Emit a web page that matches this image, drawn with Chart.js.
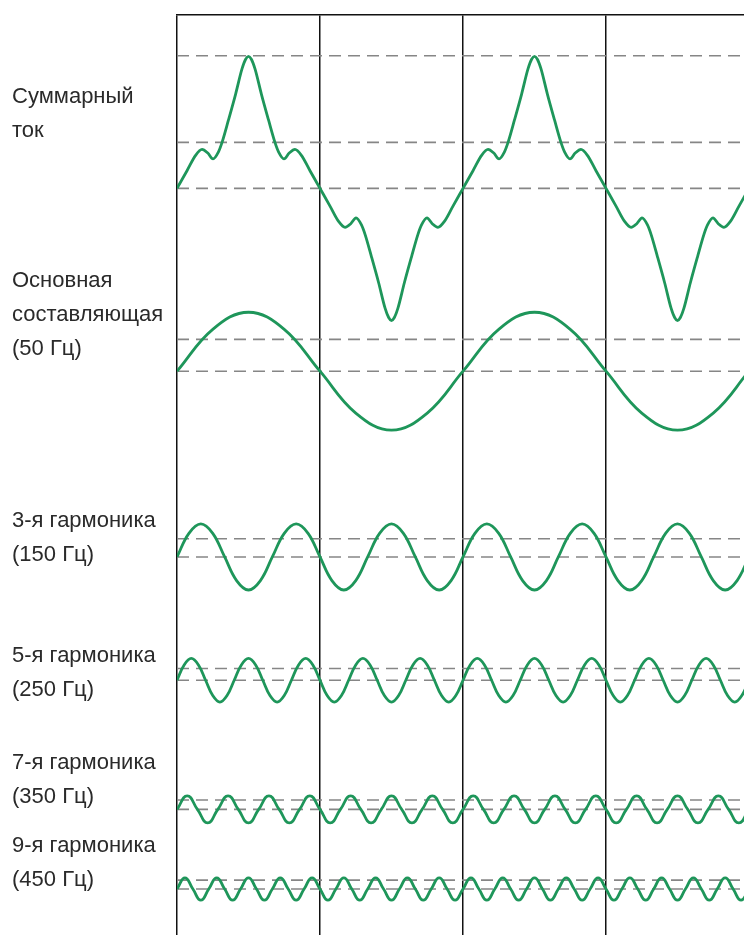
<!DOCTYPE html>
<html>
<head>
<meta charset="utf-8">
<script src="https://cdn.jsdelivr.net/npm/chart.js@4"></script>
<style>
  body { margin: 0; background: #fff; }
  #wrap { position: relative; width: 744px; height: 935px; }
  #waves { position: absolute; left: 0; top: 0; }
  .lbl {
    position: absolute; left: 12px;
    font-family: "Liberation Sans", Arial, sans-serif;
    font-size: 22px; line-height: 34px; color: #2a2a2a;
    white-space: nowrap;
  }
</style>
</head>
<body>
<div id="wrap">
  <canvas id="waves" width="744" height="935"></canvas>
  <div class="lbl" style="top:79px">Суммарный<br>ток</div>
  <div class="lbl" style="top:263px">Основная<br>составляющая<br>(50 Гц)</div>
  <div class="lbl" style="top:503px">3-я гармоника<br>(150 Гц)</div>
  <div class="lbl" style="top:638px">5-я гармоника<br>(250 Гц)</div>
  <div class="lbl" style="top:745px">7-я гармоника<br>(350 Гц)</div>
  <div class="lbl" style="top:828px">9-я гармоника<br>(450 Гц)</div>
</div>
<script>
// time in ms (50 Hz -> 20 ms period), values in units of the fundamental amplitude

// summed current, read point by point
const sumT = [0,0.7,1.3,1.75,2.15,2.52,2.9,3.15,3.6,4.1,4.55,4.8,5,5.2,5.45,5.9,6.4,6.85,7.1,7.48,7.85,8.25,8.7,9.3,
  10,10.7,11.3,11.75,12.15,12.52,12.9,13.15,13.6,14.1,14.55,14.8,15,15.2,15.45,15.9,16.4,16.85,17.1,17.48,17.85,18.25,18.7,19.3,
  20,20.7,21.3,21.75,22.15,22.52,22.9,23.15,23.6,24.1,24.55,24.8,25,25.2,25.45,25.9,26.4,26.85,27.1,27.48,27.85,28.25,28.7,29.3,
  30,30.7,31.3,31.75,32.15,32.52,32.9,33.15,33.6,34.1,34.55,34.8,35,35.2,35.45,35.9,36.4,36.85,37.1,37.48,37.85,38.25,38.7,39.3,40];
const sumV = [0,0.3,0.56,0.66,0.6,0.5,0.62,0.78,1.16,1.6,2.03,2.19,2.24,2.19,2.03,1.6,1.16,0.78,0.62,0.5,0.6,0.66,0.56,0.3,
  0,-0.3,-0.56,-0.66,-0.6,-0.5,-0.62,-0.78,-1.16,-1.6,-2.03,-2.19,-2.24,-2.19,-2.03,-1.6,-1.16,-0.78,-0.62,-0.5,-0.6,-0.66,-0.56,-0.3,
  0,0.3,0.56,0.66,0.6,0.5,0.62,0.78,1.16,1.6,2.03,2.19,2.24,2.19,2.03,1.6,1.16,0.78,0.62,0.5,0.6,0.66,0.56,0.3,
  0,-0.3,-0.56,-0.66,-0.6,-0.5,-0.62,-0.78,-1.16,-1.6,-2.03,-2.19,-2.24,-2.19,-2.03,-1.6,-1.16,-0.78,-0.62,-0.5,-0.6,-0.66,-0.56,-0.3,0];

// harmonics, sampled at a fixed step (ms)
const fundStep = 2.5;
const fundV = [0,0.71,1,0.71,0,-0.71,-1,-0.71,0,0.71,1,0.71,0,-0.71,-1,-0.71,0];

const h3Step = 20 / 24;
const h3V = [0,0.4,0.56,0.4,0,-0.4,-0.56,-0.4, 0,0.4,0.56,0.4,0,-0.4,-0.56,-0.4, 0,0.4,0.56,0.4,0,-0.4,-0.56,-0.4,
  0,0.4,0.56,0.4,0,-0.4,-0.56,-0.4, 0,0.4,0.56,0.4,0,-0.4,-0.56,-0.4, 0,0.4,0.56,0.4,0,-0.4,-0.56,-0.4, 0];

const h5Step = 0.5;
const h5V = [0,0.26,0.37,0.26,0,-0.26,-0.37,-0.26, 0,0.26,0.37,0.26,0,-0.26,-0.37,-0.26, 0,0.26,0.37,0.26,0,-0.26,-0.37,-0.26,
  0,0.26,0.37,0.26,0,-0.26,-0.37,-0.26, 0,0.26,0.37,0.26,0,-0.26,-0.37,-0.26, 0,0.26,0.37,0.26,0,-0.26,-0.37,-0.26,
  0,0.26,0.37,0.26,0,-0.26,-0.37,-0.26, 0,0.26,0.37,0.26,0,-0.26,-0.37,-0.26, 0,0.26,0.37,0.26,0,-0.26,-0.37,-0.26,
  0,0.26,0.37,0.26,0,-0.26,-0.37,-0.26, 0];

const h7Step = 20 / 28;
const h7V = [0,0.23,0,-0.23, 0,0.23,0,-0.23, 0,0.23,0,-0.23, 0,0.23,0,-0.23, 0,0.23,0,-0.23, 0,0.23,0,-0.23, 0,0.23,0,-0.23,
  0,0.23,0,-0.23, 0,0.23,0,-0.23, 0,0.23,0,-0.23, 0,0.23,0,-0.23, 0,0.23,0,-0.23, 0,0.23,0,-0.23, 0,0.23,0,-0.23, 0];

const h9Step = 20 / 36;
const h9V = [0,0.19,0,-0.19, 0,0.19,0,-0.19, 0,0.19,0,-0.19, 0,0.19,0,-0.19, 0,0.19,0,-0.19, 0,0.19,0,-0.19,
  0,0.19,0,-0.19, 0,0.19,0,-0.19, 0,0.19,0,-0.19, 0,0.19,0,-0.19, 0,0.19,0,-0.19, 0,0.19,0,-0.19,
  0,0.19,0,-0.19, 0,0.19,0,-0.19, 0,0.19,0,-0.19, 0,0.19,0,-0.19, 0,0.19,0,-0.19, 0,0.19,0,-0.19, 0];

// dashed reference levels for each trace (relative to its zero line)
const sumLevels = [2.25, 0.78, 0];
const fundLevels = [0.54, 0];
const h3Levels = [0.31, 0];
const h5Levels = [0.2, 0];
const h7Levels = [0.16, 0];
const h9Levels = [0.15, 0];

// layout: where each trace's zero line sits on the shared y axis
const rows = [
  { t: sumT, v: sumV, levels: sumLevels, base: 12.66, mono: true },
  { step: fundStep, v: fundV, levels: fundLevels, base: 9.56, tension: 0.4 },
  { step: h3Step, v: h3V, levels: h3Levels, base: 6.41, tension: 0.4 },
  { step: h5Step, v: h5V, levels: h5Levels, base: 4.32, tension: 0.4 },
  { step: h7Step, v: h7V, levels: h7Levels, base: 2.13, tension: 0.5 },
  { step: h9Step, v: h9V, levels: h9Levels, base: 0.78, tension: 0.5 }
];

const green = '#1e965a';
const waveSets = [];
const dashSets = [];
rows.forEach(r => {
  waveSets.push({
    data: r.v.map((v, i) => ({ x: r.t ? r.t[i] : i * r.step, y: r.base + v })),
    borderColor: green,
    borderWidth: 2.8,
    tension: r.tension || 0.4,
    cubicInterpolationMode: r.mono ? 'monotone' : 'default',
    pointRadius: 0
  });
  r.levels.forEach(l => {
    dashSets.push({
      data: [{ x: 0, y: r.base + l }, { x: 40, y: r.base + l }],
      borderColor: '#868686',
      borderWidth: 1.6,
      borderDash: [12, 7],
      pointRadius: 0
    });
  });
});

new Chart(document.getElementById('waves').getContext('2d'), {
  type: 'line',
  data: { datasets: waveSets.concat(dashSets) },
  options: {
    responsive: false,
    animation: false,
    layout: { padding: { left: 177, top: 15, right: 0, bottom: 0 } },
    plugins: { legend: { display: false }, tooltip: { enabled: false } },
    scales: {
      x: {
        type: 'linear',
        position: 'top',
        min: 0,
        max: 39.65,
        ticks: { display: false, stepSize: 10 },
        grid: {
          drawTicks: false,
          lineWidth: 1.5,
          color: c => (c.tick && c.tick.value % 10 === 0) ? '#111' : 'rgba(0,0,0,0)'
        },
        border: { display: true, color: '#111', width: 1.5 }
      },
      y: { type: 'linear', display: false, min: 0, max: 15.6 }
    }
  }
});
</script>
</body>
</html>
